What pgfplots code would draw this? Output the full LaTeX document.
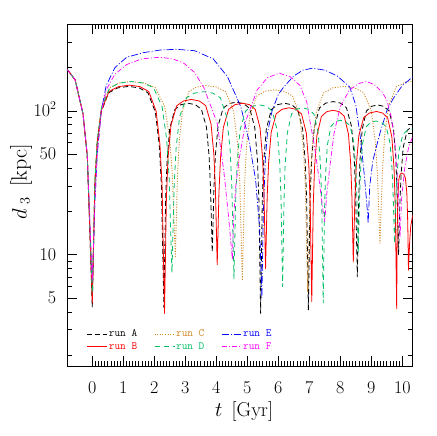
\documentclass[border=0pt]{standalone}
\usepackage{fontspec}
\usepackage{pgfplots}
\pgfplotsset{compat=1.18}
\definecolor{cC}{RGB}{205,133,30}
\definecolor{cD}{RGB}{0,190,100}
\definecolor{cE}{RGB}{0,0,255}
\definecolor{cF}{RGB}{255,0,255}
\begin{document}
\begin{tikzpicture}
\useasboundingbox (-67.3pt,-70pt) rectangle (368.7pt,366pt);
\begin{axis}[
  at={(0pt,0pt)}, anchor=south west,
  scale only axis, width=345.2pt, height=341.7pt,
  ymode=log, xmin=-0.806, xmax=10.33, ymin=1.68, ymax=400,
  xtick={0,1,...,10}, minor x tick num=9,
  ytick={5,10,50,100}, yticklabels={5,10,50,{10\raisebox{0.42em}{\fontsize{12}{12}\selectfont 2}}},
  minor ytick={2,3,4,6,7,8,9,20,30,40,60,70,80,90,200,300},
  tick align=inside, tick pos=both,
  major tick length=10pt, minor tick length=5pt,
  axis line style={line width=0.8pt},
  every tick/.style={black, line width=0.6pt},
  /pgf/number format/assume math mode=true,
  tick label style={font=\fontsize{18}{18}\selectfont, inner sep=0pt},
  xticklabel style={anchor=north, yshift=-15pt},
  yticklabel style={anchor=base east, yshift=-5.8pt, xshift=-11pt},
  xlabel={$t$~\,[Gyr]}, ylabel={$d_{\,\,3}$~\,[kpc]},
  label style={inner sep=0pt},
  xlabel style={font=\fontsize{20}{20}\selectfont, at={(axis description cs:0.512,-0.148)}, anchor=base},
  ylabel style={font=\fontsize{22}{22}\selectfont, at={(axis description cs:-0.134,0.538)}, anchor=center},
  legend columns=3,
  legend style={at={(0.048,0.032)}, anchor=south west, draw=none, fill=none,
    font=\fontsize{11}{11}\ttfamily,
    nodes={inner sep=1pt, text height=8pt, text depth=2.5pt},
    /tikz/every even column/.append style={column sep=16pt}},
  legend image code/.code={\draw[#1] (0pt,0pt) -- (20pt,0pt);},
  legend cell align=left,
  every axis plot/.append style={line join=round},
]
% run A
\addplot[black, line width=0.8pt, dash pattern=on 5pt off 3pt] coordinates {
(-1.61,243.9) (-1.035,225.5) (-0.552,164.1) (-0.299,95.3) (-0.161,48.7) (0,4.3)
(0.082,30.2) (0.152,57.5) (0.281,97.7) (0.527,133.6) (0.819,144.4) (1.17,148)
(1.512,144.4) (1.797,133.6) (2.036,97.7) (2.162,57.5) (2.230,30.2) (2.31,4.3)
(2.365,23.9) (2.411,44.5) (2.497,75.0) (2.661,102.1) (2.856,110.3) (3.09,113)
(3.324,110.4) (3.519,102.7) (3.683,77.1) (3.769,48.4) (3.815,28.9) (3.87,10.4)
(3.925,29.2) (3.971,49.1) (4.057,78.4) (4.221,104.5) (4.416,112.4) (4.65,115)
(4.884,112.2) (5.079,103.9) (5.243,76.1) (5.329,45.0) (5.375,23.9) (5.43,3.9)
(5.484,23.5) (5.530,44.3) (5.615,74.8) (5.777,102.1) (5.969,110.3) (6.2,113)
(6.431,110.3) (6.623,102.1) (6.785,74.9) (6.870,44.4) (6.916,23.7) (6.97,4.1)
(7.026,24.2) (7.074,45.5) (7.162,76.8) (7.33,104.8) (7.53,113.2) (7.77,116)
(8.004,113.3) (8.199,105.1) (8.363,77.9) (8.449,47.3) (8.495,26.6) (8.55,7)
(8.596,25.5) (8.635,45.1) (8.706,74.0) (8.843,99.7) (9.005,107.4) (9.2,110)
(9.404,107.5) (9.574,100) (9.717,75) (9.792,47) (9.832,28) (9.88,10)
(9.923,22.6) (9.961,35.9) (10.029,55.5) (10.159,73) (10.314,78.3) (10.5,80)
};
\addlegendentry{\textcolor{black}{run A}}
% run C
\addplot[cC, line width=0.9pt, dash pattern=on 1pt off 1.6pt] coordinates {
(-1.61,243.9) (-1.035,225.5) (-0.552,164.1) (-0.299,95.3) (-0.161,48.7) (0,6)
(0.0868,33.7) (0.1612,63.0) (0.2976,106.1) (0.558,144.6) (0.868,156.2) (1.24,160)
(1.672,156.2) (2.032,145.0) (2.334,107.4) (2.493,65.3) (2.579,36.8) (2.68,9.7)
(2.748,35.0) (2.806,61.6) (2.913,100.9) (3.117,136.0) (3.359,146.5) (3.65,150)
(4.007,146.4) (4.305,135.7) (4.554,99.8) (4.685,59.7) (4.757,32.4) (4.84,6.6)
(4.912,30.6) (4.974,56.0) (5.087,93.3) (5.304,126.7) (5.561,136.7) (5.87,140)
(6.194,136.6) (6.464,126.6) (6.691,92.9) (6.810,55.3) (6.874,29.7) (6.95,5.5)
(7.031,31.2) (7.10,58.2) (7.226,98.1) (7.468,133.8) (7.755,144.4) (8.1,148)
(8.454,144.6) (8.749,134.4) (8.997,100.4) (9.127,62.3) (9.197,36.5) (9.28,12)
(9.362,39) (9.432,67.5) (9.561,109.5) (9.807,147) (10.099,158.3) (10.45,162)
};
\addlegendentry{\textcolor{cC}{run C}}
% run E
\addplot[cE, line width=0.7pt, dash pattern=on 7pt off 2pt on 1pt off 2pt] coordinates {
(-1.61,243.9) (-1.035,225.5) (-0.552,164.1) (-0.299,95.3) (-0.161,48.7) (0,5.5)
(0.08,22) (0.16,50) (0.29,100) (0.45,150) (0.73,200) (1.11,236) (1.65,254) (2.2,265) (2.72,268)
(3.3,262) (3.9,230) (4.36,173) (4.79,107) (5.05,63) (5.27,33) (5.4,15) (5.47,5)
(5.52,20) (5.58,45) (5.65,70) (5.8,100) (6.0,130) (6.18,147) (6.5,175) (6.8,192) (7.1,198)
(7.5,192) (7.9,175) (8.3,147) (8.5,110) (8.65,65) (8.78,35) (8.86,22) (8.9,16.5)
(8.95,30) (9.05,45) (9.28,70) (9.5,100) (9.71,122) (10.0,150) (10.35,173) (10.6,180)
};
\addlegendentry{\textcolor{cE}{run E}}
% run B
\addplot[red, line width=0.8pt] coordinates {
(-1.61,243.9) (-1.035,225.5) (-0.552,164.1) (-0.299,95.3) (-0.161,48.7) (0,4.6)
(0.084,31.0) (0.156,58.8) (0.288,99.8) (0.54,136.4) (0.84,147.3) (1.2,151)
(1.539,147.3) (1.822,136.3) (2.059,99.5) (2.183,58.3) (2.251,30.4) (2.33,3.9)
(2.391,24.8) (2.443,46.9) (2.539,79.4) (2.722,108.4) (2.939,117.1) (3.2,120)
(3.449,117.2) (3.657,108.9) (3.831,81.0) (3.922,49.8) (3.972,28.6) (4.03,8.5)
(4.087,27.3) (4.137,47.2) (4.227,76.4) (4.399,102.6) (4.604,110.4) (4.85,113)
(5.072,110.4) (5.257,102.5) (5.412,76.3) (5.494,46.9) (5.538,26.9) (5.59,8)
(5.643,25.5) (5.689,43.9) (5.772,71.1) (5.932,95.3) (6.122,102.6) (6.35,105)
(6.569,102.5) (6.752,95.0) (6.905,69.9) (6.985,41.8) (7.029,22.8) (7.08,4.7)
(7.128,22.0) (7.170,40.3) (7.246,67.3) (7.391,91.4) (7.563,98.6) (7.77,101)
(7.965,98.7) (8.128,91.8) (8.264,68.8) (8.336,43.0) (8.375,25.5) (8.42,8.9)
(8.473,25.1) (8.518,42.2) (8.60,67.5) (8.758,90.0) (8.945,96.7) (9.17,99)
(9.365,96.6) (9.528,89.5) (9.664,65.8) (9.736,39.3) (9.775,21.3) (9.82,4.2)
(9.831,10.1) (9.841,16.3) (9.858,25.5) (9.892,33.7) (9.932,36.2) (9.98,37)
(10.046,36.3) (10.101,34.1) (10.147,26.8) (10.171,18.6) (10.185,13.1) (10.2,7.8)
(10.221,10.0) (10.239,12.3) (10.272,15.7) (10.335,18.8) (10.41,19.7) (10.5,20)
};
\addlegendentry{\textcolor{red}{run B}}
% run D
\addplot[cD, line width=0.8pt, dash pattern=on 5pt off 4pt] coordinates {
(-1.61,243.9) (-1.035,225.5) (-0.552,164.1) (-0.299,95.3) (-0.161,48.7) (0,5.4)
(0.0875,33.2) (0.1625,62.6) (0.30,105.9) (0.5625,144.5) (0.875,156.1) (1.25,160)
(1.646,156.2) (1.976,144.8) (2.253,106.6) (2.398,63.9) (2.478,35.0) (2.57,7.5)
(2.642,30.6) (2.704,55.0) (2.817,91.0) (3.034,123.2) (3.291,132.8) (3.6,136)
(3.891,132.8) (4.134,123.1) (4.337,90.8) (4.444,54.6) (4.502,30.1) (4.57,6.8)
(4.628,25.4) (4.678,45.0) (4.769,73.9) (4.944,99.7) (5.151,107.4) (5.4,110)
(5.622,107.4) (5.807,99.6) (5.962,73.6) (6.044,44.5) (6.088,24.7) (6.14,6)
(6.185,23.8) (6.223,42.6) (6.294,70.4) (6.428,95.1) (6.588,102.5) (6.78,105)
(6.981,102.5) (7.149,95.0) (7.289,69.9) (7.363,41.7) (7.403,22.7) (7.45,4.6)
(7.489,19.3) (7.522,34.7) (7.582,57.5) (7.698,77.9) (7.835,84.0) (8.0,86)
(8.174,84.1) (8.319,78.4) (8.441,59.5) (8.505,38.2) (8.539,23.8) (8.58,10.2)
(8.62,23.7) (8.654,37.9) (8.717,58.8) (8.837,77.5) (8.979,83.1) (9.15,85)
(9.33,83.2) (9.48,77.7) (9.606,59.5) (9.672,39.0) (9.708,25.1) (9.75,12)
(9.792,23.3) (9.828,35.3) (9.894,53.0) (10.02,68.7) (10.17,73.4) (10.35,75)
};
\addlegendentry{\textcolor{cD}{run D}}
% run F
\addplot[cF, line width=0.7pt, dash pattern=on 5pt off 2pt on 1pt off 2pt] coordinates {
(-1.61,243.9) (-1.035,225.5) (-0.552,164.1) (-0.299,95.3) (-0.161,48.7) (0,6.5)
(0.08,22) (0.16,50) (0.29,98) (0.45,140) (0.73,180) (1.11,210) (1.6,230) (2.18,236)
(2.6,230) (2.96,214) (3.3,185) (3.6,145) (4.03,82) (4.25,37) (4.4,18) (4.52,9.2)
(4.56,18) (4.63,30) (4.73,45) (4.95,85) (5.32,140) (5.65,170) (6.03,183)
(6.4,172) (6.7,150) (6.92,115) (7.02,85) (7.15,60) (7.29,37) (7.42,22) (7.5,16.9)
(7.56,26) (7.67,42) (7.8,70) (8.0,107) (8.3,140) (8.6,155) (8.85,160)
(9.1,152) (9.35,135) (9.5,119) (9.65,90) (9.78,55) (9.87,28) (9.93,13.3)
(9.98,25) (10.08,40) (10.2,55) (10.35,68)
};
\addlegendentry{\textcolor{cF}{run F}}
\end{axis}
\end{tikzpicture}
\end{document}
